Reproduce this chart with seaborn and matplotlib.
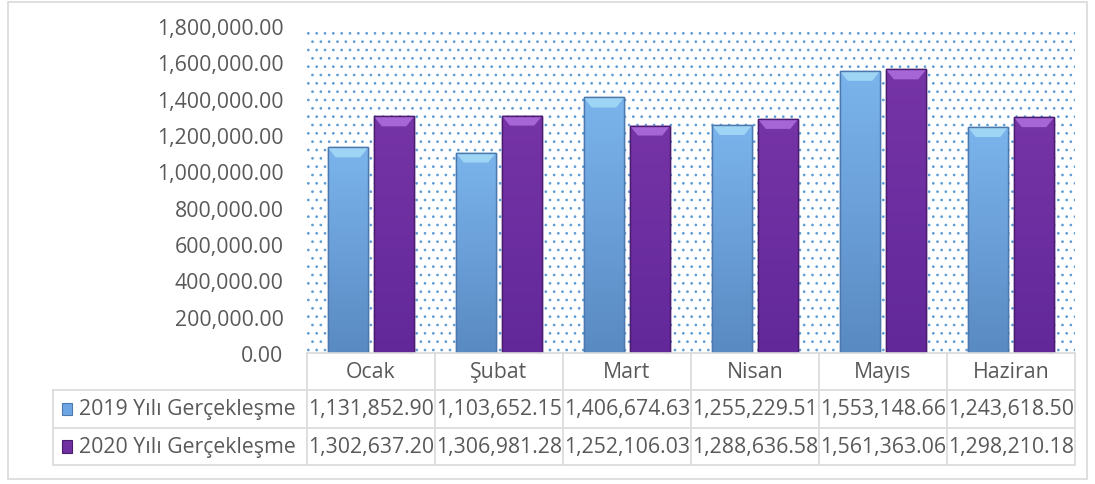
import pandas as pd
import numpy as np
import matplotlib.pyplot as plt
import seaborn as sns
from matplotlib.patches import Rectangle, Polygon
from matplotlib.colors import LinearSegmentedColormap

# === Data ===
months = ["Ocak", "Şubat", "Mart", "Nisan", "Mayıs", "Haziran"]
series_names = ["2019 Yılı Gerçekleşme", "2020 Yılı Gerçekleşme"]
values_2019 = [1131852.90, 1103652.15, 1406674.63, 1255229.51, 1553148.66, 1243618.50]
values_2020 = [1302637.20, 1306981.28, 1252106.03, 1288636.58, 1561363.06, 1298210.18]
y_ticks = [0, 200000, 400000, 600000, 800000, 1000000, 1200000, 1400000, 1600000, 1800000]

colors = ["#6EA6E4", "#7030A0"]
edge_colors = ["#4C78AE", "#4A1C70"]
grad = [("#5A8AC2", "#7BB4EC"), ("#62289A", "#7634A6")]
bevel = ["#A6DCF6", "#B070DE"]
text_color = "#595959"
grid_color = "#D9D9D9"

df = pd.DataFrame({
    "Ay": months * 2,
    "Seri": [series_names[0]] * 6 + [series_names[1]] * 6,
    "Deger": values_2019 + values_2020,
})

sns.set_style("white")
plt.rcParams["font.family"] = ["Open Sans", "DejaVu Sans"]
plt.rcParams["hatch.linewidth"] = 0.7
FS = 15.3

W, H = 1095, 485
fig = plt.figure(figsize=(W / 100, H / 100), dpi=100)

# figure border
fig.patches.append(Rectangle((8 / W, 5 / H), 1079 / W, 477 / H, transform=fig.transFigure,
                             fill=False, edgecolor=grid_color, linewidth=1.2))

# === Main bar axes ===
x0, x1 = 307, 1075
y_top, y_zero = 27, 354
ax = fig.add_axes([x0 / W, (H - y_zero) / H, (x1 - x0) / W, (y_zero - y_top) / H])

# dotted plot-area background
ax.add_patch(Rectangle((0, 0), 1, 0.985, transform=ax.transAxes, facecolor="white",
                       hatch="..", edgecolor="#5B9BD5", linewidth=0, zorder=0))

sns.barplot(data=df, x="Ay", y="Deger", hue="Seri", palette=colors, saturation=1,
            ax=ax, width=0.72, gap=0.12, legend=False, zorder=3)

ax.set_xlim(-0.5, 5.5)
ax.set_ylim(0, 1800000)

# gradient fill + bevelled top for each bar
bev_h = 55000
for i, cont in enumerate(ax.containers):
    cmap = LinearSegmentedColormap.from_list(f"g{i}", list(grad[i]))
    for bar in cont:
        bar.set_edgecolor(edge_colors[i])
        bar.set_linewidth(1.0)
        bx, bw, bh = bar.get_x(), bar.get_width(), bar.get_height()
        img = ax.imshow(np.linspace(0, 1, 100).reshape(-1, 1), cmap=cmap, origin="lower",
                        extent=(bx, bx + bw, 0, bh), aspect="auto", zorder=3.5)
        img.set_clip_path(bar)
        ins = bw * 0.2
        ax.add_patch(Polygon([(bx, bh), (bx + bw, bh), (bx + bw - ins, bh - bev_h),
                              (bx + ins, bh - bev_h)], closed=True, facecolor=bevel[i],
                             edgecolor="none", alpha=0.85, zorder=4))
        ax.add_patch(Rectangle((bx, 0), bw, bh, facecolor="none",
                               edgecolor=edge_colors[i], linewidth=1.0, zorder=4.5))

ax.set_xlim(-0.5, 5.5)
ax.set_ylim(0, 1800000)
ax.set_yticks(y_ticks)
ax.set_yticklabels([f"{v:,.2f}" for v in y_ticks], color=text_color, fontsize=FS)
ax.tick_params(axis="y", length=0, pad=17)
ax.set_xticks([])
ax.set_xlabel("")
ax.set_ylabel("")
for s in ax.spines.values():
    s.set_visible(False)

# === Data table ===
lbl_w = (x0 - 53) / 128.0
tab = fig.add_axes([53 / W, (H - 466) / H, (x1 - 53) / W, (466 - y_zero) / H])
tab.set_xlim(-0.5 - lbl_w, 5.5)
tab.set_ylim(0, 3)
tab.axis("off")

lw = 1.2
tab.plot([-0.5, 5.5], [3, 3], color=grid_color, lw=lw, clip_on=False)
for yy in [2, 1, 0]:
    tab.plot([-0.5 - lbl_w, 5.5], [yy, yy], color=grid_color, lw=lw, clip_on=False)
for k in range(7):
    tab.plot([k - 0.5, k - 0.5], [0, 3], color=grid_color, lw=lw, clip_on=False)
tab.plot([-0.5 - lbl_w, -0.5 - lbl_w], [0, 2], color=grid_color, lw=lw, clip_on=False)

for k, m in enumerate(months):
    tab.text(k, 2.5, m, ha="center", va="center", fontsize=FS, color=text_color)
for r, (vals, name) in enumerate(zip([values_2019, values_2020], series_names)):
    yy = 1.5 - r
    for k, v in enumerate(vals):
        tab.text(k, yy, f"{v:,.2f}", ha="center", va="center", fontsize=FS, color=text_color)
    tab.add_patch(Rectangle((-0.5 - lbl_w + 0.07, yy - 0.17), 0.075, 0.34,
                            facecolor=colors[r], edgecolor=edge_colors[r], lw=0.8))
    tab.text(-0.5 - lbl_w + 0.2, yy, name, ha="left", va="center", fontsize=FS, color=text_color)

plt.savefig("out.png", dpi=100)
plt.close()
